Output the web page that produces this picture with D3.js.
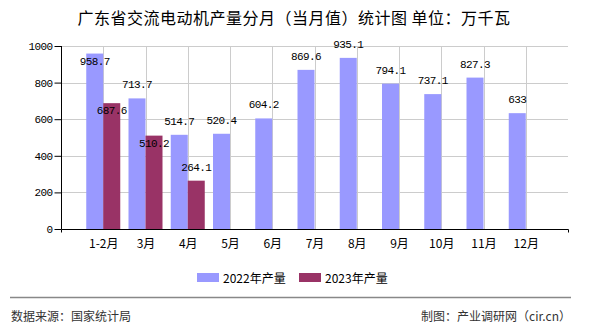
<!DOCTYPE html>
<html><head><meta charset="utf-8">
<script src="https://cdn.jsdelivr.net/npm/d3@7"></script>
<style>body{margin:0;background:#fff}svg{display:block}</style>
</head><body>
<svg id="c" width="590" height="330"></svg>
<script>
const categories = ["1-2月","3月","4月","5月","6月","7月","8月","9月","10月","11月","12月"];
const values2022 = [958.7,713.7,514.7,520.4,604.2,869.6,935.1,794.1,737.1,827.3,633];
const values2023 = [687.6,510.2,264.1,null,null,null,null,null,null,null,null];
const seriesNames = ["2022年产量","2023年产量"];
const yTicks = [0,200,400,600,800,1000];
const colors = ["#9999FF","#993366"];

const svg = d3.select("#c");
const L = 61, R = 568, T = 46, B = 229;
const cjk = "'Noto Sans CJK SC', sans-serif";
const mono = "'Liberation Mono','Noto Sans CJK SC', monospace";

const x = d3.scalePoint().domain(categories).range([L, R]).padding(1);
const inner = d3.scaleBand().domain(seriesNames).range([-17, 17]);
const y = d3.scaleLinear().domain([0, 1000]).range([B, T]);

// title
svg.append("text").attr("x", 294).attr("y", 17).attr("text-anchor","middle")
  .attr("dominant-baseline","central").style("font-family", cjk).style("font-size","16px")
  .style("letter-spacing","0.5px")
  .attr("fill","#000").text("广东省交流电动机产量分月（当月值）统计图 单位：万千瓦");

// gridlines
const g = svg.append("g");
g.selectAll("line.h").data(yTicks.filter(d=>d>0)).join("line")
  .attr("x1", L).attr("x2", R).attr("y1", d=>Math.round(y(d))+0.5).attr("y2", d=>Math.round(y(d))+0.5)
  .attr("stroke","#cccccc");
g.selectAll("line.v").data(categories).join("line")
  .attr("x1", d=>Math.round(x(d))+0.5).attr("x2", d=>Math.round(x(d))+0.5).attr("y1", T).attr("y2", B)
  .attr("stroke","#cccccc");

// bars
const data = [values2022, values2023];
data.forEach((vals, si) => {
  svg.append("g").selectAll("rect").data(categories.map((c,i)=>({c, v: vals[i]})).filter(d=>d.v!=null))
    .join("rect")
    .attr("x", d=>x(d.c)+inner(seriesNames[si]))
    .attr("width", inner.bandwidth())
    .attr("y", d=>y(d.v)).attr("height", d=>B - y(d.v))
    .attr("fill", colors[si]);
});

// axes
const yAxis = d3.axisLeft(y).tickValues(yTicks).tickSize(7).tickPadding(2).tickFormat(d3.format("d"));
const ya = svg.append("g").attr("transform", `translate(${L+0.5},0)`).call(yAxis);
ya.select(".domain").attr("stroke","#000").attr("d", `M0,${T}V${B}`);
ya.selectAll(".tick line").attr("stroke","#000");
ya.selectAll(".tick text").style("font-family", mono).style("font-size","11px")
  .style("letter-spacing","-0.6px").attr("fill","#000");

const xAxis = d3.axisBottom(x).tickSize(0).tickPadding(8);
const xa = svg.append("g").attr("transform", `translate(0,${B+0.5})`).call(xAxis);
xa.select(".domain").attr("stroke","#000").attr("d", `M${L+0.5},3V0H${R+0.5}V3`);
xa.selectAll(".tick text").style("font-family", cjk).style("font-size","12px").attr("fill","#000")
  .attr("dy","0.9em");

// value labels with simple collision avoidance
const placed = [];
const lbl = svg.append("g");
data.forEach((vals, si) => {
  vals.forEach((v, i) => {
    if (v == null) return;
    const cx = x(categories[i]) + inner(seriesNames[si]) + inner.bandwidth()/2;
    const top = y(v);
    const txt = String(v);
    const w = txt.length * 6, h = 12;
    let cy = top - 13;
    const box = c => ({x0: cx - w/2, x1: cx + w/2, y0: c - h/2, y1: c + h/2});
    const hit = b => placed.some(p => b.x0 < p.x1 && b.x1 > p.x0 && b.y0 < p.y1 && b.y1 > p.y0);
    if (cy < 44 || hit(box(cy))) cy = top + 8;
    placed.push(box(cy));
    lbl.append("text").attr("x", cx).attr("y", cy).attr("text-anchor","middle")
      .attr("dominant-baseline","central").style("font-family", mono).style("font-size","11px")
      .style("letter-spacing","-0.6px").attr("fill","#000").text(txt);
  });
});

// legend
const legX = [197, 299];
seriesNames.forEach((n, i) => {
  svg.append("rect").attr("x", legX[i]).attr("y", 273).attr("width", 22).attr("height", 9).attr("fill", colors[i]);
  svg.append("text").attr("x", legX[i] + 26).attr("y", 277.5).attr("dominant-baseline","central")
    .style("font-family", cjk).style("font-size","12px").attr("fill","#000").text(n);
});

// footer
svg.append("line").attr("x1", 10).attr("x2", 571).attr("y1", 297.5).attr("y2", 297.5).attr("stroke","#888").attr("stroke-width",1.3);
svg.append("text").attr("x", 11).attr("y", 315).attr("dominant-baseline","central")
  .style("font-family", cjk).style("font-size","12px").attr("fill","#333").text("数据来源：国家统计局");
svg.append("text").attr("x", 571).attr("y", 315).attr("text-anchor","end").attr("dominant-baseline","central")
  .style("font-family", cjk).style("font-size","12px").attr("fill","#333").text("制图：产业调研网（cir.cn）");
</script>
</body></html>
